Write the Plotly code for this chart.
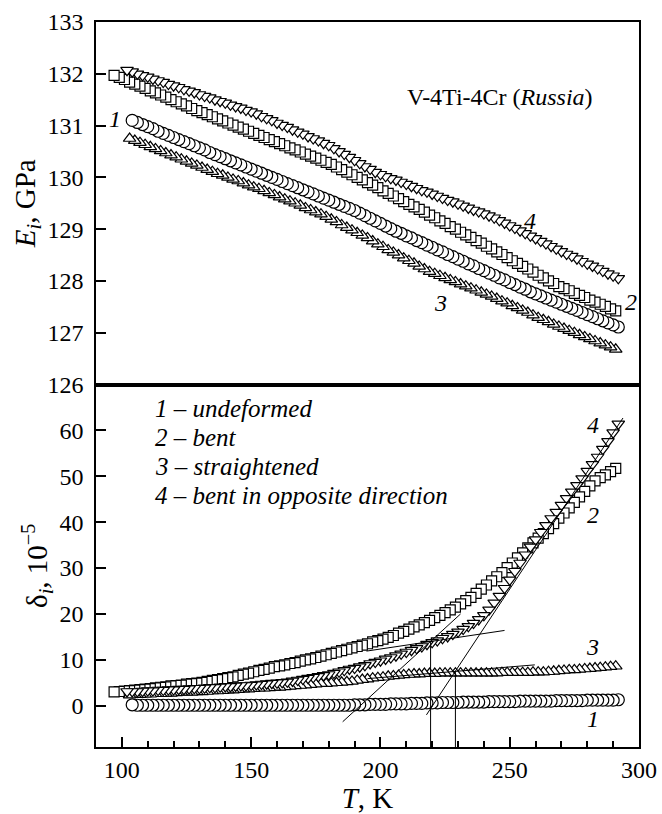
import plotly.graph_objects as go

# ---------------- data ----------------
# Series 1 - undeformed (circles)
T1 = [104, 106, 108, 110, 112, 114, 116, 118, 120, 122, 124, 126, 128, 130, 132, 134,
      136, 138, 140, 142, 144, 146, 148, 150, 152, 154, 156, 158, 160, 162, 164, 166,
      168, 170, 172, 174, 176, 178, 180, 182, 184, 186, 188, 190, 192, 194, 196, 198,
      200, 202, 204, 206, 208, 210, 212, 214, 216, 218, 220, 222, 224, 226, 228, 230,
      232, 234, 236, 238, 240, 242, 244, 246, 248, 250, 252, 254, 256, 258, 260, 262,
      264, 266, 268, 270, 272, 274, 276, 278, 280, 282, 284, 286, 288, 290, 292]
E1 = [131.10, 131.06, 131.02, 130.98, 130.94, 130.89, 130.85, 130.81, 130.77, 130.73,
      130.69, 130.65, 130.61, 130.57, 130.53, 130.48, 130.44, 130.40, 130.36, 130.32,
      130.28, 130.24, 130.20, 130.16, 130.12, 130.08, 130.04, 130.00, 129.96, 129.92,
      129.88, 129.84, 129.80, 129.76, 129.72, 129.68, 129.64, 129.60, 129.56, 129.52,
      129.48, 129.44, 129.40, 129.36, 129.31, 129.26, 129.21, 129.16, 129.11, 129.06,
      129.01, 128.96, 128.92, 128.87, 128.83, 128.78, 128.74, 128.69, 128.65, 128.60,
      128.56, 128.51, 128.47, 128.42, 128.38, 128.33, 128.29, 128.24, 128.20, 128.15,
      128.11, 128.06, 128.02, 127.97, 127.93, 127.88, 127.84, 127.79, 127.75, 127.71,
      127.67, 127.63, 127.59, 127.55, 127.51, 127.47, 127.43, 127.39, 127.35, 127.31,
      127.27, 127.23, 127.19, 127.15, 127.11]
D1 = [0.2, 0.1, 0.1, 0.1, 0.1, 0.1, 0.1, 0.1, 0.1, 0.1, 0.1, 0.1, 0.1, 0.1, 0.1, 0.1,
      0.1, 0.1, 0.1, 0.1, 0.1, 0.1, 0.1, 0.1, 0.1, 0.1, 0.1, 0.1, 0.1, 0.1, 0.1, 0.1,
      0.1, 0.1, 0.1, 0.1, 0.1, 0.1, 0.1, 0.1, 0.1, 0.1, 0.1, 0.2, 0.2, 0.2, 0.3, 0.3,
      0.3, 0.3, 0.4, 0.4, 0.4, 0.4, 0.5, 0.5, 0.5, 0.6, 0.6, 0.6, 0.7, 0.7, 0.7, 0.7,
      0.8, 0.8, 0.8, 0.8, 0.8, 0.9, 0.9, 0.9, 0.9, 0.9, 0.9, 1.0, 1.0, 1.0, 1.0, 1.0,
      1.0, 1.0, 1.1, 1.1, 1.1, 1.1, 1.1, 1.1, 1.2, 1.2, 1.2, 1.2, 1.2, 1.2, 1.3]

# Series 2 - bent (squares)
T2 = [97, 99, 101, 103, 105, 107, 109, 111, 113, 115, 117, 119, 121, 123, 125, 127,
      129, 131, 133, 135, 137, 139, 141, 143, 145, 147, 149, 151, 153, 155, 157, 159,
      161, 163, 165, 167, 169, 171, 173, 175, 177, 179, 181, 183, 185, 187, 189, 191,
      193, 195, 197, 199, 201, 203, 205, 207, 209, 211, 213, 215, 217, 219, 221, 223,
      225, 227, 229, 231, 233, 235, 237, 239, 241, 243, 245, 247, 249, 251, 253, 255,
      257, 259, 261, 263, 265, 267, 269, 271, 273, 275, 277, 279, 281, 283, 285, 287,
      289, 291]
E2 = [131.97, 131.93, 131.89, 131.84, 131.80, 131.76, 131.72, 131.67, 131.63, 131.59,
      131.55, 131.50, 131.46, 131.42, 131.38, 131.33, 131.29, 131.25, 131.21, 131.17,
      131.13, 131.09, 131.05, 131.01, 130.97, 130.93, 130.89, 130.85, 130.81, 130.77,
      130.73, 130.69, 130.65, 130.61, 130.57, 130.53, 130.49, 130.45, 130.41, 130.37,
      130.33, 130.29, 130.25, 130.20, 130.15, 130.10, 130.05, 130.00, 129.95, 129.90,
      129.85, 129.80, 129.74, 129.69, 129.64, 129.59, 129.53, 129.48, 129.43, 129.38,
      129.33, 129.27, 129.22, 129.16, 129.11, 129.05, 129.00, 128.94, 128.89, 128.84,
      128.78, 128.73, 128.67, 128.62, 128.56, 128.51, 128.45, 128.39, 128.34, 128.28,
      128.23, 128.17, 128.11, 128.06, 128.00, 127.95, 127.89, 127.85, 127.81, 127.76,
      127.72, 127.68, 127.63, 127.59, 127.55, 127.51, 127.46, 127.42]
D2 = [3.0, 3.1, 3.2, 3.3, 3.4, 3.5, 3.6, 3.7, 3.9, 4.0, 4.1, 4.3, 4.4, 4.5, 4.7, 4.8,
      4.9, 5.1, 5.3, 5.5, 5.7, 5.9, 6.1, 6.3, 6.6, 6.9, 7.1, 7.4, 7.7, 7.9, 8.2, 8.5,
      8.7, 8.9, 9.2, 9.4, 9.7, 10.0, 10.2, 10.5, 10.8, 11.1, 11.4, 11.7, 12.0, 12.3,
      12.6, 12.9, 13.2, 13.5, 13.9, 14.2, 14.5, 14.9, 15.3, 15.8, 16.2, 16.7, 17.2,
      17.6, 18.1, 18.6, 19.2, 19.7, 20.3, 20.9, 21.5, 22.2, 22.9, 23.6, 24.5, 25.4,
      26.3, 27.2, 28.1, 29.0, 30.1, 31.1, 32.2, 33.3, 34.4, 35.5, 36.5, 37.5, 38.6,
      39.7, 40.9, 42.0, 43.1, 44.3, 45.5, 46.7, 47.9, 49.0, 49.7, 50.3, 51.0, 51.7]

# Series 3 - straightened (up triangles)
T3 = [103, 105, 107, 109, 111, 113, 115, 117, 119, 121, 123, 125, 127, 129, 131, 133,
      135, 137, 139, 141, 143, 145, 147, 149, 151, 153, 155, 157, 159, 161, 163, 165,
      167, 169, 171, 173, 175, 177, 179, 181, 183, 185, 187, 189, 191, 193, 195, 197,
      199, 201, 203, 205, 207, 209, 211, 213, 215, 217, 219, 221, 223, 225, 227, 229,
      231, 233, 235, 237, 239, 241, 243, 245, 247, 249, 251, 253, 255, 257, 259, 261,
      263, 265, 267, 269, 271, 273, 275, 277, 279, 281, 283, 285, 287, 289, 291]
E3 = [130.75, 130.71, 130.67, 130.63, 130.59, 130.55, 130.51, 130.47, 130.43, 130.39,
      130.35, 130.31, 130.27, 130.23, 130.19, 130.15, 130.11, 130.07, 130.04, 130.00,
      129.96, 129.93, 129.89, 129.85, 129.81, 129.78, 129.74, 129.70, 129.66, 129.62,
      129.58, 129.54, 129.50, 129.46, 129.41, 129.37, 129.33, 129.29, 129.24, 129.19,
      129.14, 129.08, 129.03, 128.98, 128.93, 128.88, 128.83, 128.77, 128.71, 128.66,
      128.60, 128.55, 128.50, 128.44, 128.39, 128.34, 128.28, 128.23, 128.18, 128.14,
      128.10, 128.06, 128.02, 127.98, 127.94, 127.90, 127.86, 127.82, 127.78, 127.74,
      127.70, 127.66, 127.61, 127.57, 127.52, 127.48, 127.43, 127.39, 127.34, 127.29,
      127.25, 127.21, 127.16, 127.12, 127.08, 127.04, 127.00, 126.96, 126.92, 126.88,
      126.84, 126.80, 126.76, 126.72, 126.68]
D3 = [2.3, 2.4, 2.4, 2.5, 2.5, 2.6, 2.6, 2.7, 2.7, 2.8, 2.9, 2.9, 2.9, 3.0, 3.0, 3.1,
      3.2, 3.2, 3.3, 3.4, 3.4, 3.5, 3.6, 3.6, 3.7, 3.8, 3.8, 3.9, 4.0, 4.0, 4.1, 4.2,
      4.3, 4.4, 4.5, 4.6, 4.7, 4.8, 4.8, 4.9, 5.0, 5.1, 5.2, 5.3, 5.5, 5.7, 5.8, 6.0,
      6.1, 6.2, 6.4, 6.5, 6.6, 6.7, 6.8, 6.9, 6.9, 7.0, 7.0, 7.0, 7.1, 7.1, 7.1, 7.1,
      7.1, 7.1, 7.1, 7.1, 7.1, 7.1, 7.1, 7.1, 7.2, 7.2, 7.2, 7.2, 7.2, 7.2, 7.3, 7.3,
      7.3, 7.4, 7.5, 7.6, 7.7, 7.8, 7.8, 7.9, 8.0, 8.1, 8.2, 8.3, 8.4, 8.5, 8.6]

# Series 4 - bent in opposite direction (down triangles)
T4 = [102, 104, 106, 108, 110, 112, 114, 116, 118, 120, 122, 124, 126, 128, 130, 132,
      134, 136, 138, 140, 142, 144, 146, 148, 150, 152, 154, 156, 158, 160, 162, 164,
      166, 168, 170, 172, 174, 176, 178, 180, 182, 184, 186, 188, 190, 192, 194, 196,
      198, 200, 202, 204, 206, 208, 210, 212, 214, 216, 218, 220, 222, 224, 226, 228,
      230, 232, 234, 236, 238, 240, 242, 244, 246, 248, 250, 252, 254, 256, 258, 260,
      262, 264, 266, 268, 270, 272, 274, 276, 278, 280, 282, 284, 286, 288, 290, 292]
E4 = [132.07, 132.04, 132.00, 131.97, 131.94, 131.90, 131.87, 131.84, 131.80, 131.77,
      131.74, 131.70, 131.67, 131.64, 131.60, 131.57, 131.54, 131.50, 131.47, 131.44,
      131.40, 131.37, 131.34, 131.30, 131.27, 131.23, 131.18, 131.14, 131.10, 131.05,
      131.01, 130.97, 130.92, 130.88, 130.84, 130.79, 130.75, 130.71, 130.66, 130.62,
      130.56, 130.50, 130.45, 130.39, 130.33, 130.27, 130.21, 130.16, 130.10, 130.06,
      130.02, 129.98, 129.95, 129.91, 129.87, 129.83, 129.79, 129.75, 129.72, 129.68,
      129.64, 129.60, 129.56, 129.53, 129.49, 129.45, 129.41, 129.37, 129.34, 129.30,
      129.26, 129.22, 129.17, 129.12, 129.07, 129.02, 128.97, 128.92, 128.87, 128.82,
      128.77, 128.72, 128.67, 128.62, 128.57, 128.52, 128.48, 128.43, 128.38, 128.33,
      128.29, 128.24, 128.19, 128.14, 128.10, 128.05]
D4 = [3.1, 3.1, 3.1, 3.2, 3.3, 3.3, 3.4, 3.4, 3.5, 3.5, 3.6, 3.6, 3.7, 3.8, 3.8, 3.9,
      4.0, 4.0, 4.1, 4.2, 4.2, 4.3, 4.4, 4.4, 4.5, 4.6, 4.7, 4.8, 4.9, 5.0, 5.1, 5.2,
      5.4, 5.6, 5.8, 6.0, 6.2, 6.4, 6.6, 6.8, 7.1, 7.4, 7.7, 8.0, 8.2, 8.5, 8.8, 9.2,
      9.5, 9.8, 10.2, 10.5, 10.9, 11.3, 11.7, 12.1, 12.5, 12.9, 13.4, 13.8, 14.2, 14.7,
      15.1, 15.6, 16.1, 16.7, 17.3, 18.0, 18.8, 19.7, 20.9, 22.4, 23.9, 25.6, 27.4,
      29.3, 31.1, 32.9, 34.6, 36.2, 37.8, 39.3, 40.8, 42.2, 43.7, 45.2, 46.6, 48.0,
      49.5, 51.1, 52.6, 54.2, 55.9, 57.6, 59.5, 61.4]

# Construction lines (bottom panel)
LINE_A_T = [185.4, 231.0]
LINE_A_D = [-3.5, 20.0]
LINE_B_T = [217.8, 293.8]
LINE_B_D = [-2.0, 62.7]
LINE_C_T = [194.6, 248.0]
LINE_C_D = [11.9, 16.4]
LINE_D_T = [195.0, 259.7]
LINE_D_D = [5.9, 8.9]
VERT_T = [219.4, 229.0]
VERT_TOP = [14.0, 7.5]

LEGEND_LINES = ["1 – undeformed", "2 – bent", "3 – straightened",
                "4 – bent in opposite direction"]

E_TICKS = [126, 127, 128, 129, 130, 131, 132, 133]
D_TICKS = [0, 10, 20, 30, 40, 50, 60]
T_TICKS = [100, 150, 200, 250, 300]

# ---------------- figure ----------------
FONT = "Liberation Serif, Tinos, Times New Roman, DejaVu Serif, serif"
fig = go.Figure()

series = [
    (T1, E1, D1, "circle", 12),
    (T2, E2, D2, "square", 10),
    (T3, E3, D3, "triangle-up", 11),
    (T4, E4, D4, "triangle-down", 11),
]
for T, E, D, sym, sz in series:
    mk = dict(symbol=sym, size=sz, color="white", line=dict(color="black", width=1.2))
    fig.add_trace(go.Scatter(x=T[::-1], y=E[::-1], mode="markers", marker=mk,
                             xaxis="x", yaxis="y", showlegend=False, hoverinfo="skip"))
    fig.add_trace(go.Scatter(x=T[::-1], y=D[::-1], mode="markers", marker=mk,
                             xaxis="x2", yaxis="y2", showlegend=False, hoverinfo="skip"))

ln = dict(color="black", width=1)
for xs, ys in [(LINE_A_T, LINE_A_D), (LINE_B_T, LINE_B_D), (LINE_C_T, LINE_C_D),
               (LINE_D_T, LINE_D_D)]:
    fig.add_trace(go.Scatter(x=xs, y=ys, mode="lines", line=ln, xaxis="x2", yaxis="y2",
                             showlegend=False, hoverinfo="skip"))
D_MIN = -9
for t, top in zip(VERT_T, VERT_TOP):
    fig.add_trace(go.Scatter(x=[t, t], y=[D_MIN, top], mode="lines", line=ln,
                             xaxis="x2", yaxis="y2", showlegend=False, hoverinfo="skip"))

axcommon = dict(showline=True, linecolor="black", linewidth=1.5, mirror=True,
                showgrid=False, zeroline=False, automargin=False)

fig.update_layout(
    width=662, height=814,
    margin=dict(l=96, r=23, t=22, b=67),
    paper_bgcolor="white", plot_bgcolor="white",
    font=dict(family=FONT, size=24, color="black"),
    xaxis=dict(domain=[0, 1], anchor="y", range=[90, 300], ticks="",
               showticklabels=False, **axcommon),
    yaxis=dict(domain=[0.5, 1], anchor="x", range=[126, 133], tickvals=E_TICKS,
               ticks="inside", ticklen=10, tickwidth=1.5, tickcolor="black",
               ticklabelstandoff=6,
               title=dict(text="<i>E</i><sub><i>i</i></sub>, GPa", standoff=3),
               **axcommon),
    xaxis2=dict(domain=[0, 1], anchor="y2", range=[90, 300], tickvals=T_TICKS,
                ticks="inside", ticklen=10, tickwidth=1.5, tickcolor="black",
                minor=dict(dtick=10, tick0=100, ticks="inside", ticklen=6,
                           tickwidth=1.5, tickcolor="black"),
                title=dict(text="<i>T</i>, K", standoff=10),
                **axcommon),
    yaxis2=dict(domain=[0, 0.5], anchor="x2", range=[D_MIN, 70], tickvals=D_TICKS,
                ticks="inside", ticklen=10, tickwidth=1.5, tickcolor="black",
                ticklabelstandoff=6,
                title=dict(text="δ<sub><i>i</i></sub>, 10<sup>−5</sup>", standoff=3),
                **axcommon),
)

ann = []
ann.append(dict(x=246.2, y=131.55, xref="x", yref="y", text="V-4Ti-4Cr (<i>Russia</i>)",
                showarrow=False, font=dict(size=24)))
for txt, x, y in [("1", 97.3, 131.13), ("4", 257.8, 129.15), ("2", 296.8, 127.6),
                  ("3", 223.4, 127.58)]:
    ann.append(dict(x=x, y=y, xref="x", yref="y", text=f"<i>{txt}</i>", showarrow=False,
                    font=dict(size=24)))
for txt, y in [("4", 61.2), ("2", 41.6), ("3", 12.9), ("1", -3.0)]:
    ann.append(dict(x=282.1, y=y, xref="x2", yref="y2", text=f"<i>{txt}</i>",
                    showarrow=False, font=dict(size=24)))
for txt, y in zip(LEGEND_LINES, [64.7, 58.4, 52.1, 45.8]):
    ann.append(dict(x=111.9, y=y, xref="x2", yref="y2", text=f"<i>{txt}</i>",
                    showarrow=False, xanchor="left", font=dict(size=25)))
fig.update_layout(annotations=ann)

fig.write_html("out.html")
